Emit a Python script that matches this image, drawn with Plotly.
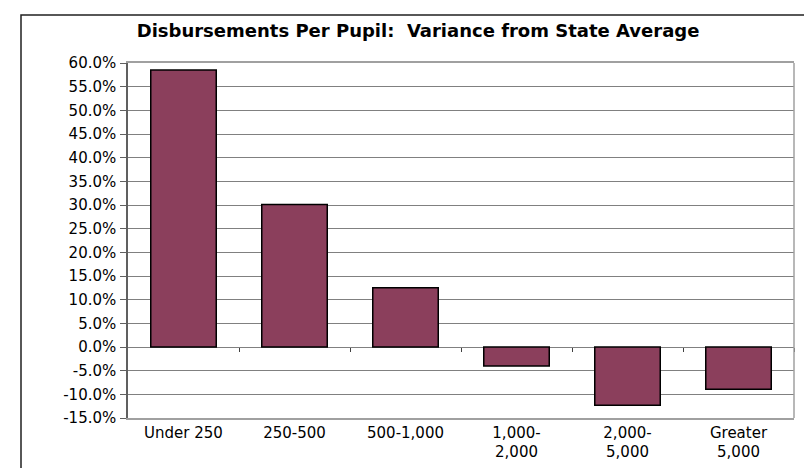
import plotly.graph_objects as go

categories = ["Under 250", "250-500", "500-1,000", "1,000-<br>2,000", "2,000-<br>5,000", "Greater<br>5,000"]
variance_pct = [58.5, 30.1, 12.5, -4.0, -12.3, -8.9]
y_ticks = [-15, -10, -5, 0, 5, 10, 15, 20, 25, 30, 35, 40, 45, 50, 55, 60]
y_tick_text = [f"{v:.1f}%" for v in y_ticks]

font_family = "DejaVu Sans, Liberation Sans, Arial, sans-serif"

fig = go.Figure()
fig.add_trace(go.Bar(
    x=list(range(len(categories))),
    y=variance_pct,
    marker=dict(color="#8B3F5C", line=dict(color="black", width=1.5)),
    width=0.59,
    showlegend=False,
))
# invisible trace to activate second x axis for tick marks at zero line
fig.add_trace(go.Scatter(x=[0], y=[0], xaxis="x2", mode="markers",
                         marker=dict(opacity=0), showlegend=False, hoverinfo="skip"))

fig.update_layout(
    width=812, height=468,
    margin=dict(l=120, r=26, t=55, b=58),
    paper_bgcolor="white", plot_bgcolor="white",
    font=dict(family=font_family, size=15, color="black"),
    title=dict(text="<b>Disbursements Per Pupil:  Variance from State Average</b>",
               x=0.505, xref="container", y=0.952, yref="container", yanchor="middle",
               font=dict(size=18, family=font_family, color="black")),
    xaxis=dict(
        tickvals=list(range(len(categories))), ticktext=categories,
        range=[-0.5, 5.5], showgrid=False, zeroline=False,
        showline=True, linecolor="#a0a0a0", linewidth=1.5, mirror=True,
        ticks="", tickfont=dict(size=15), ticklabelstandoff=0,
    ),
    xaxis2=dict(
        overlaying="x", anchor="free", position=(0 - (-15)) / 75,
        range=[-0.5, 5.5], tickvals=[0.5, 1.5, 2.5, 3.5, 4.5, 5.5],
        showticklabels=False, ticks="outside", ticklen=4, tickcolor="#404040",
        showgrid=False, zeroline=False, showline=False,
    ),
    yaxis=dict(
        range=[-15, 60], tickvals=y_ticks, ticktext=y_tick_text,
        showgrid=True, gridcolor="#808080", gridwidth=1.2,
        zeroline=False, showline=True, linecolor="#606060", linewidth=1.5,
        ticks="outside", ticklen=6, tickcolor="#606060",
        tickfont=dict(size=15), mirror=False, ticklabelstandoff=1,
    ),
    shapes=[
        dict(type="rect", xref="paper", yref="paper",
             x0=(13 - 120) / 666, x1=(807 - 120) / 666,
             y0=-0.2, y1=(410 - 7) / 355,
             line=dict(color="#202020", width=1.5), fillcolor="rgba(0,0,0,0)", layer="below"),
        dict(type="line", xref="paper", yref="paper", x0=1, x1=1, y0=0, y1=1,
             line=dict(color="#a0a0a0", width=1.5)),
    ],
)

fig.write_html("out.html")
